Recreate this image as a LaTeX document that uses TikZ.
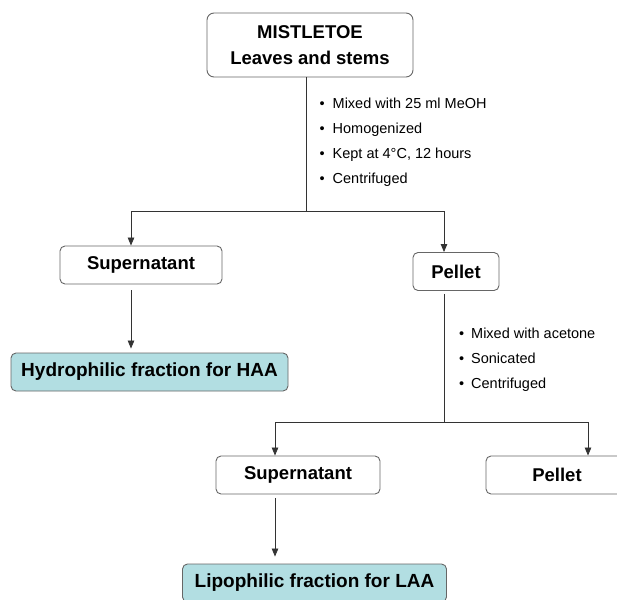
\documentclass[tikz,border=0pt]{standalone}
\usepackage{fontspec}
\setmainfont{Liberation Sans}
\usetikzlibrary{arrows.meta}
\definecolor{boxfill}{RGB}{178,222,226}
\begin{document}
\begin{tikzpicture}[x=1pt,y=1pt,
  box/.style={draw=black!60, rounded corners=5pt, line width=0.9pt, minimum height=38pt, inner sep=0pt, font=\fontsize{18.5}{22}\selectfont\bfseries},
  fbox/.style={box, fill=boxfill, font=\fontsize{19}{22}\selectfont\bfseries},
  conn/.style={draw=black!80, line width=0.8pt},
  arr/.style={conn, -{Triangle[length=8pt,width=6.5pt]}},
  steps/.style={font=\fontsize{14.5}{25}\selectfont, align=left, inner sep=0pt, anchor=west}]
\clip (0,0) rectangle (617,-599);
\useasboundingbox (0,0) rectangle (617,-599);

\node[box, minimum width=206pt, minimum height=64pt, rounded corners=7pt, align=center,
      font=\fontsize{18.5}{26}\selectfont\bfseries] (top) at (310,-45) {MISTLETOE\\Leaves and stems};
\node[steps] (st1) at (319.5,-142.5) {%
  \makebox[13pt][l]{\textbullet}Mixed with 25 ml MeOH\\
  \makebox[13pt][l]{\textbullet}Homogenized\\
  \makebox[13pt][l]{\textbullet}Kept at 4°C, 12 hours\\
  \makebox[13pt][l]{\textbullet}Centrifuged};

\node[box, minimum width=162pt] (sup1) at (141,-265) {Supernatant};
\node[box, minimum width=86pt] (pel1) at (456,-271.5) {Pellet};
\node[fbox, minimum width=277pt] (hydro) at (149.5,-372) {Hydrophilic fraction for HAA};

\node[steps] (st2) at (459,-360) {%
  \makebox[12pt][l]{\textbullet}Mixed with acetone\\
  \makebox[12pt][l]{\textbullet}Sonicated\\
  \makebox[12pt][l]{\textbullet}Centrifuged};

\node[box, minimum width=164pt] (sup2) at (298,-475) {Supernatant};
\node[box, minimum width=142pt] (pel2) at (557,-475) {Pellet};
\node[fbox, minimum width=264pt] (lipo) at (314.5,-583) {Lipophilic fraction for LAA};

\coordinate (s1) at (306,-211);
\coordinate (l1) at (131,-211);
\coordinate (r1) at (444,-211);
\coordinate (s2) at (444,-422);
\coordinate (l2) at (275,-422);
\coordinate (r2) at (588,-422);

\draw[conn] (top.south -| s1) -- (s1);
\draw[conn] (l1) -- (r1);
\draw[arr] (l1) -- (l1 |- sup1.north);
\draw[arr] (r1) -- (r1 |- pel1.north);
\draw[arr, shorten <=6pt, shorten >=4pt] (sup1.south -| l1) -- (l1 |- hydro.north);
\draw[conn, shorten <=3pt] (pel1.south -| r1) -- (s2);
\draw[conn] (l2) -- (r2);
\draw[arr] (l2) -- (l2 |- sup2.north);
\draw[arr] (r2) -- (r2 |- pel2.north);
\draw[arr, shorten <=4pt, shorten >=7pt] (sup2.south -| l2) -- (l2 |- lipo.north);
\end{tikzpicture}
\end{document}
